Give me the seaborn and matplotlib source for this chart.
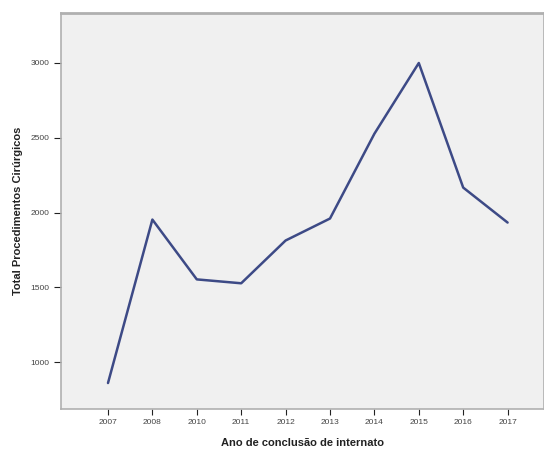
import matplotlib
matplotlib.use("Agg")
import matplotlib.pyplot as plt
import seaborn as sns
import pandas as pd

years = ["2007", "2008", "2010", "2011", "2012", "2013", "2014", "2015", "2016", "2017"]
totals = [860, 1953, 1553, 1527, 1813, 1960, 2527, 3000, 2167, 1933]
y_ticks = [1000, 1500, 2000, 2500, 3000]

df = pd.DataFrame({"ano": years, "total": totals})

sns.set_theme(style="white")
plt.rcParams["font.family"] = ["Liberation Sans", "DejaVu Sans"]

fig = plt.figure(figsize=(5.44, 4.5), dpi=100)
fig.patch.set_facecolor("white")
ax = fig.add_axes([0.112, 0.091, 0.888, 0.88])
ax.set_facecolor("#f0f0f0")

sns.lineplot(data=df, x="ano", y="total", ax=ax, color="#3d4a86",
             linewidth=1.8, sort=False)

ax.set_xlim(-1.06, 9.82)
ax.set_ylim(686, 3334)
ax.set_yticks(y_ticks)
ax.set_yticklabels([str(v) for v in y_ticks], fontsize=6, color="#444444")
ax.tick_params(axis="x", labelsize=6, colors="#222222", length=4, width=0.8,
               direction="out", bottom=True)
ax.tick_params(axis="y", colors="#222222", length=5, width=0.8,
               direction="out", left=True)
for lab in ax.get_xticklabels() + ax.get_yticklabels():
    lab.set_color("#444444")

ax.set_xlabel("Ano de conclusão de internato", fontsize=8, fontweight="bold",
              color="#222222", labelpad=8)
ax.set_ylabel("Total Procedimentos Cirúrgicos", fontsize=8, fontweight="bold",
              color="#222222", labelpad=5)

for side in ["left", "bottom", "top", "right"]:
    ax.spines[side].set_color("#b0b0b0")
    ax.spines[side].set_linewidth(1.2)
ax.spines["top"].set_linewidth(2.0)
ax.grid(False)

fig.savefig("out.png", dpi=100)
